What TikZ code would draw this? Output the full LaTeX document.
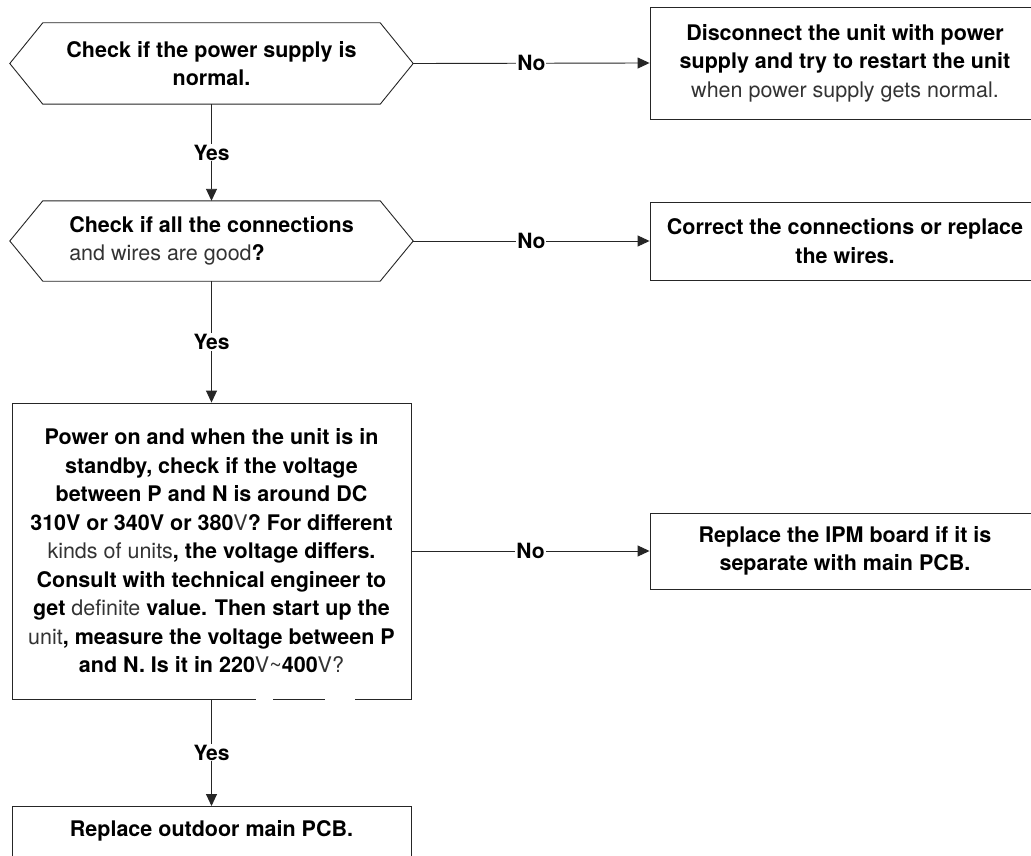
\documentclass[tikz,border=0pt]{standalone}
\usepackage{fontspec}
\setmainfont{TeX Gyre Heros}
\usetikzlibrary{arrows.meta,calc}
\begin{document}
\begin{tikzpicture}[x=1pt,y=-1pt,
  txt/.style={font=\fontsize{21.5}{28.5}\selectfont\bfseries, align=center, inner sep=0pt},
  hexcore/.style={txt, minimum width=337pt},
  boxnode/.style={txt, draw=black!85, line width=0.9pt},
  lbl/.style={font=\fontsize{21}{25}\selectfont\bfseries, fill=white, inner sep=1pt},
  conn/.style={draw=black!85, line width=0.9pt, -{Triangle[length=12pt,width=11pt]}},
  hexline/.style={draw=black!85, line width=0.9pt}
]
\newcommand{\rg}[1]{{\mdseries\color{black!80}#1}}
\clip (0,0) rectangle (1031,856);
\fill[white] (0,0) rectangle (1031,856);

% hexagon 1
\node[hexcore, minimum height=81pt] (h1) at (211.5,63.5) {Check if the power supply is\\normal.};
\coordinate (h1w) at ($(h1.west)+(-33,0)$);
\coordinate (h1e) at ($(h1.east)+(33,0)$);
\draw[hexline] (h1.north west) -- (h1.north east) -- (h1e) -- (h1.south east) -- (h1.south west) -- (h1w) -- cycle;

% box 1
\node[boxnode, minimum width=390pt, minimum height=112pt] (b1) at (845,63) {Disconnect the unit with power\\supply and try to restart the unit\\\rg{when power supply gets normal.}};

% hexagon 2
\node[hexcore, minimum height=80pt, align=left] (h2) at (211.5,241) {Check if all the connections\\\rg{and wires are good}?};
\coordinate (h2w) at ($(h2.west)+(-33,0)$);
\coordinate (h2e) at ($(h2.east)+(33,0)$);
\draw[hexline] (h2.north west) -- (h2.north east) -- (h2e) -- (h2.south east) -- (h2.south west) -- (h2w) -- cycle;

% box 2
\node[boxnode, minimum width=390pt, minimum height=78pt] (b2) at (845,241) {Correct the connections or replace\\the wires.};

% big box
\node[boxnode, minimum width=399pt, minimum height=296pt] (big) at (211.5,551) {Power on and when the unit is in\\standby, check if the voltage\\between P and N is around DC\\310V or 340V or 380\rg{V}? For different\\\rg{kinds of units}, the voltage differs.\\Consult with technical engineer to\\get \rg{definite} value. Then start up the\\\rg{unit}, measure the voltage between P\\and N. Is it in 220\rg{V\textasciitilde}400\rg{V?}};
\draw[white, line width=2pt] (256,699) -- (273,699) (325,699) -- (355,699);

% box 3
\node[boxnode, minimum width=390pt, minimum height=76pt] (b3) at (845,551) {Replace the IPM board if it is\\separate with main PCB.};

% box 4
\node[boxnode, anchor=north, minimum width=399pt, text height=30pt, text depth=60pt] (b4) at (211.5,806) {Replace outdoor main PCB.};

% connectors
\draw[conn] (h1e) -- node[lbl]{No} (b1.west);
\draw[conn] (h1.south) -- node[lbl]{Yes} (h2.north);
\draw[conn] (h2e) -- node[lbl]{No} (b2.west);
\draw[conn] (h2.south) -- node[lbl]{Yes} (big.north);
\draw[conn] (big.east) -- node[lbl]{No} (b3.west);
\draw[conn] (big.south) -- node[lbl]{Yes} (b4.north);
\end{tikzpicture}
\end{document}
